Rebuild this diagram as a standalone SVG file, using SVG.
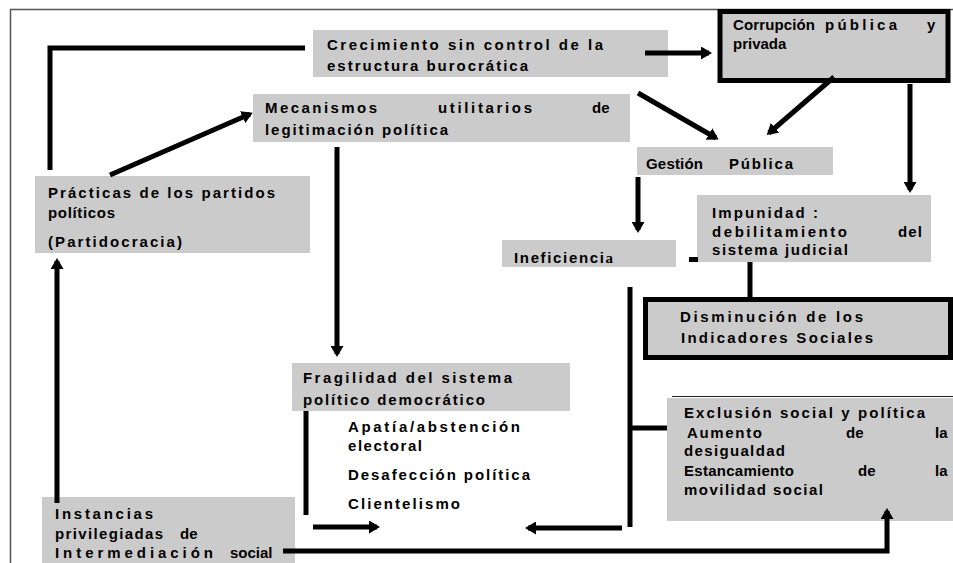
<svg xmlns="http://www.w3.org/2000/svg" width="953" height="563" viewBox="0 0 953 563">
<defs>
<style>
.box{fill:#cbcbcb;}
.bold{fill:#cbcbcb;stroke:#000;stroke-width:5;}
text{font-family:"Liberation Sans",Arial,sans-serif;font-weight:bold;font-size:15px;fill:#000;}
.c{fill:none;stroke:#000;stroke-width:5;}
.a{marker-end:url(#ah);}
</style>
<marker id="ah" viewBox="0 0 11 13" refX="8" refY="6.5" markerWidth="11" markerHeight="13" markerUnits="userSpaceOnUse" orient="auto">
<path d="M0,0 L11,6.5 L0,13 Z" fill="#000"/>
</marker>
</defs>
<rect width="953" height="563" fill="#fff"/>
<path d="M10.5,563 V9.5 H953" fill="none" stroke="#555" stroke-width="1.5"/>

<g id="crecimiento">
<rect class="box" x="313" y="30" width="355" height="47"/>
<text x="327" y="50" textLength="276" lengthAdjust="spacing">Crecimiento sin control de la</text>
<text x="327" y="71" textLength="201" lengthAdjust="spacing">estructura burocrática</text>
</g>

<g id="corrupcion">
<rect class="bold" x="720" y="11.5" width="228" height="69"/>
<text y="30"><tspan x="733" textLength="82" lengthAdjust="spacing">Corrupción</tspan><tspan x="825" textLength="72" lengthAdjust="spacing">pública</tspan><tspan x="927">y</tspan></text>
<text x="733" y="49">privada</text>
</g>

<g id="mecanismos">
<rect class="box" x="253" y="94" width="377" height="48"/>
<text y="113"><tspan x="265" textLength="112" lengthAdjust="spacing">Mecanismos</tspan><tspan x="438" textLength="94" lengthAdjust="spacing">utilitarios</tspan><tspan x="592">de</tspan></text>
<text x="265" y="135" textLength="183" lengthAdjust="spacing">legitimación política</text>
</g>

<g id="gestion">
<rect class="box" x="637" y="147" width="196" height="28"/>
<text y="169"><tspan x="646" textLength="57" lengthAdjust="spacing">Gestión</tspan><tspan x="729" textLength="64" lengthAdjust="spacing">Pública</tspan></text>
</g>

<g id="practicas">
<rect class="box" x="35" y="176" width="275" height="77"/>
<text x="48" y="198" textLength="227" lengthAdjust="spacing">Prácticas de los partidos</text>
<text x="48" y="218" textLength="67" lengthAdjust="spacing">políticos</text>
<text x="48" y="247" textLength="134" lengthAdjust="spacing">(Partidocracia)</text>
</g>

<g id="impunidad">
<rect class="box" x="697" y="195" width="234" height="67"/>
<text x="712" y="218" textLength="106" lengthAdjust="spacing">Impunidad :</text>
<text y="237"><tspan x="712" textLength="135" lengthAdjust="spacing">debilitamiento</tspan><tspan x="898" textLength="24" lengthAdjust="spacing">del</tspan></text>
<text x="712" y="255" textLength="136" lengthAdjust="spacing">sistema judicial</text>
</g>

<g id="ineficiencia">
<rect class="box" x="502" y="240" width="174" height="27"/>
<text x="514" y="263" textLength="99" lengthAdjust="spacing">Ineficienci<tspan style="font-family:'Liberation Serif',serif;">a</tspan></text>
</g>

<g id="disminucion">
<rect class="bold" x="645.5" y="299.5" width="305" height="58"/>
<text x="680" y="322" textLength="183" lengthAdjust="spacing">Disminución de los</text>
<text x="681" y="343" textLength="192" lengthAdjust="spacing">Indicadores Sociales</text>
</g>

<g id="fragilidad">
<rect class="box" x="292" y="363" width="278" height="48"/>
<text x="303" y="383" textLength="209" lengthAdjust="spacing">Fragilidad del sistema</text>
<text x="303" y="405" textLength="182" lengthAdjust="spacing">político democrático</text>
<text x="348" y="432" textLength="172" lengthAdjust="spacing">Apatía/abstención</text>
<text x="348" y="451" textLength="74" lengthAdjust="spacing">electoral</text>
<text x="348" y="480" textLength="182" lengthAdjust="spacing">Desafección política</text>
<text x="348" y="509" textLength="112" lengthAdjust="spacing">Clientelismo</text>
</g>

<g id="instancias">
<rect class="box" x="42" y="497" width="253" height="66"/>
<text x="55" y="519" textLength="98" lengthAdjust="spacing">Instancias</text>
<text y="539"><tspan x="55" textLength="108" lengthAdjust="spacing">privilegiadas</tspan><tspan x="180">de</tspan></text>
<text y="558"><tspan x="55" textLength="158" lengthAdjust="spacing">Intermediación</tspan><tspan x="230">social</tspan></text>
</g>

<g id="exclusion">
<rect class="box" x="667" y="398" width="286" height="123"/>
<path d="M672,396.5 H953" stroke="#222" stroke-width="1.2"/>
<text x="684" y="418" textLength="241" lengthAdjust="spacing">Exclusión social y política</text>
<text y="438"><tspan x="687" textLength="75" lengthAdjust="spacing">Aumento</tspan><tspan x="846">de</tspan><tspan x="935">la</tspan></text>
<text x="684" y="456" textLength="101" lengthAdjust="spacing">desigualdad</text>
<text y="476"><tspan x="684" textLength="110" lengthAdjust="spacing">Estancamiento</tspan><tspan x="858">de</tspan><tspan x="935">la</tspan></text>
<text x="684" y="495" textLength="139" lengthAdjust="spacing">movilidad social</text>
</g>

<g id="connectors">
<path class="c" d="M305,48 H50 V170"/>
<path class="c a" d="M645,53 H709"/>
<path class="c a" d="M110,175 L250,114"/>
<path class="c a" d="M337,147 V354"/>
<path class="c a" d="M638,93 L716,138"/>
<path class="c a" d="M834,77 L769,133"/>
<path class="c a" d="M910,84 V190"/>
<path class="c a" d="M638,177 V230"/>
<rect x="689" y="257" width="9" height="5" fill="#000"/>
<path class="c" d="M750,262 V299"/>
<path class="c" d="M630,287 V527"/>
<path class="c" d="M630,428 H667"/>
<path class="c a" d="M622,528 H528"/>
<path class="c" d="M306,411 V515"/>
<path class="c a" d="M313,527 H377"/>
<path class="c a" d="M57,503 V261"/>
<path class="c a" d="M283,551 H887 V511"/>
</g>
</svg>
